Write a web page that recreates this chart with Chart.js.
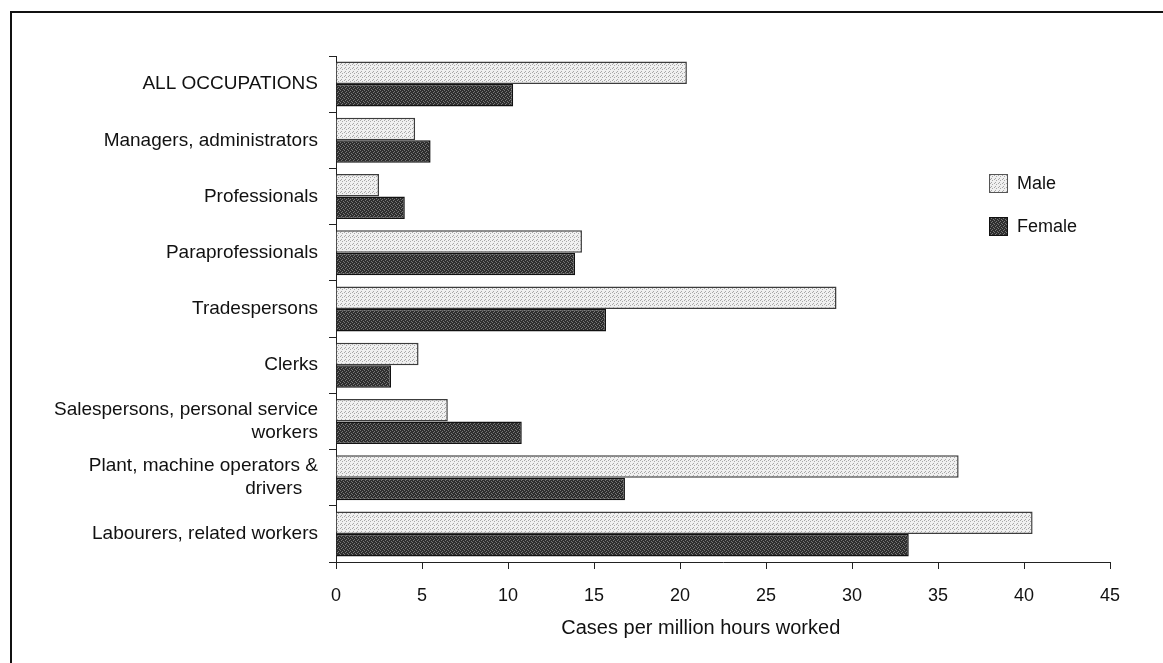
<!DOCTYPE html>
<html>
<head>
<meta charset="utf-8">
<title>Cases per million hours worked by occupation</title>
<script src="https://cdn.jsdelivr.net/npm/chart.js@4.4.1/dist/chart.umd.min.js"></script>
<style>
  html, body { margin: 0; padding: 0; background: #ffffff; }
  #wrap { position: relative; width: 1163px; height: 663px; overflow: hidden;
          font-family: "Liberation Sans", Arial, sans-serif; }
  #frame { position: absolute; left: 10px; top: 11px; width: 1170px; height: 700px;
           border-left: 2px solid #111; border-top: 2px solid #111; }
  #chart { position: absolute; left: 0; top: 0; }
  #legend { position: absolute; left: 989px; top: 174px; font-size: 18px; color: #111; }
  .item { display: flex; align-items: center; height: 19px; margin-bottom: 24px; }
  .swatch { width: 19px; height: 19px; box-sizing: border-box; margin-right: 9px; }
</style>
</head>
<body>
<div id="wrap">
  <div id="frame"></div>
  <canvas id="chart" width="1163" height="663"></canvas>
  <div id="legend"></div>
</div>
<script>
const categories = [
  "ALL OCCUPATIONS",
  "Managers, administrators",
  "Professionals",
  "Paraprofessionals",
  "Tradespersons",
  "Clerks",
  ["Salespersons, personal service", "workers"],
  ["Plant, machine operators &", "drivers   "],
  "Labourers, related workers"
];
const seriesNames = ["Male", "Female"];
const maleRates   = [20.4, 4.6, 2.5, 14.3, 29.1, 4.8, 6.5, 36.2, 40.5];
const femaleRates = [10.3, 5.5, 4.0, 13.9, 15.7, 3.2, 10.8, 16.8, 33.3];
const xAxisMin = 0;
const xAxisMax = 45;
const xAxisStep = 5;
const xAxisTitle = "Cases per million hours worked";

const FONT = "'Liberation Sans', Arial, sans-serif";

// Small stippled tiles used as bar fills
function stippleTile(base, dot, dots) {
  const c = document.createElement("canvas");
  c.width = 4; c.height = 4;
  const g = c.getContext("2d");
  g.fillStyle = base;
  g.fillRect(0, 0, 4, 4);
  g.fillStyle = dot;
  dots.forEach(([x, y]) => g.fillRect(x, y, 1, 1));
  return c;
}
const maleTile = stippleTile("#f0f0f0", "#a8a8a8", [[0, 0], [2, 1], [1, 3]]);
const femaleTile = stippleTile("#2e2e2e", "#767676", [[1, 0], [3, 1], [0, 2], [2, 3]]);
const ctx = document.getElementById("chart").getContext("2d");
const maleFill = ctx.createPattern(maleTile, "repeat");
const femaleFill = ctx.createPattern(femaleTile, "repeat");

// Legend built from the same series
const legend = document.getElementById("legend");
[[seriesNames[0], maleTile, "#555"], [seriesNames[1], femaleTile, "#111"]].forEach(([name, tile, edge]) => {
  const item = document.createElement("div");
  item.className = "item";
  const sw = document.createElement("span");
  sw.className = "swatch";
  sw.style.backgroundImage = "url(" + tile.toDataURL() + ")";
  sw.style.border = "1px solid " + edge;
  const tx = document.createElement("span");
  tx.textContent = name;
  item.appendChild(sw);
  item.appendChild(tx);
  legend.appendChild(item);
});

new Chart(ctx, {
  type: "bar",
  data: {
    labels: categories,
    datasets: [
      { label: seriesNames[0], data: maleRates, backgroundColor: maleFill,
        borderColor: "#3c3c3c", borderWidth: 1.5 },
      { label: seriesNames[1], data: femaleRates, backgroundColor: femaleFill,
        borderColor: "#111111", borderWidth: 1.5 }
    ]
  },
  options: {
    indexAxis: "y",
    responsive: false,
    animation: false,
    layout: { padding: { left: 0, top: 56, right: 53, bottom: 0 } },
    datasets: { bar: { categoryPercentage: 0.8, barPercentage: 1.0 } },
    plugins: { legend: { display: false }, tooltip: { enabled: false } },
    scales: {
      x: {
        min: xAxisMin, max: xAxisMax,
        ticks: { stepSize: xAxisStep, color: "#111", padding: 16,
                 font: { family: FONT, size: 18 } },
        grid: { drawOnChartArea: false, tickLength: 7, color: "#222" },
        border: { color: "#222", width: 1 },
        title: { display: true, text: xAxisTitle + "        ", color: "#111",
                 font: { family: FONT, size: 20 }, padding: { top: 4, bottom: 23 } },
        afterFit(scale) { scale.height = 101; }
      },
      y: {
        ticks: { color: "#111", padding: 11, font: { family: FONT, size: 19, lineHeight: 1.21 } },
        grid: { drawOnChartArea: false, tickLength: 7, color: "#222", offset: true },
        border: { color: "#222", width: 1 },
        afterFit(scale) { scale.width = 336; }
      }
    }
  }
});
</script>
</body>
</html>
